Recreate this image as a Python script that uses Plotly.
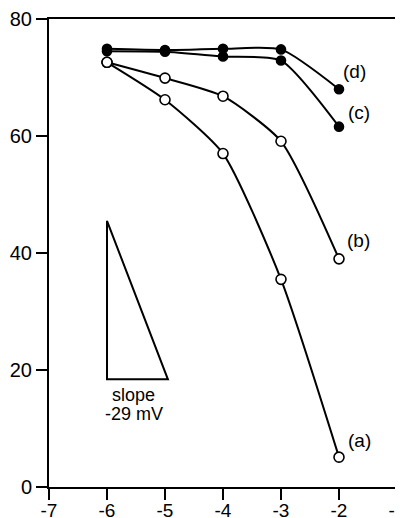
import plotly.graph_objects as go

x_vals = [-6, -5, -4, -3, -2]
series_a = [72.6, 66.2, 57.0, 35.5, 5.1]
series_b = [72.6, 69.9, 66.8, 59.1, 39.0]
series_c = [74.5, 74.4, 73.6, 72.9, 61.6]
series_d = [74.9, 74.7, 74.9, 74.8, 68.0]

label_text = ["(a)", "(b)", "(c)", "(d)"]
label_x = [-1.64, -1.67, -1.66, -1.74]
label_y = [8.0, 42.1, 64.0, 71.0]

tri_x = [-6, -6, -4.95, -6]
tri_y = [45.5, 18.4, 18.4, 45.5]

x_ticks = [-7, -6, -5, -4, -3, -2, -1]
x_tick_text = ["-7", "-6", "-5", "-4", "-3", "-2", "-1"]
y_ticks = [0, 20, 40, 60, 80]
y_tick_text = ["0", "20", "40", "60", "80"]

FONT = "Liberation Sans, Arial, sans-serif"

fig = go.Figure()

fig.add_trace(go.Scatter(x=tri_x, y=tri_y, mode="lines",
                         line=dict(color="black", width=2), hoverinfo="skip"))

for ys, filled in [(series_a, False), (series_b, False), (series_c, True), (series_d, True)]:
    fig.add_trace(go.Scatter(
        x=x_vals, y=ys, mode="lines+markers",
        line=dict(color="black", width=2, shape="spline", smoothing=0.6),
        marker=dict(symbol="circle", size=10 if not filled else 9,
                    color="black" if filled else "white",
                    line=dict(color="black", width=1.6)),
    ))

for t, lx, ly in zip(label_text, label_x, label_y):
    fig.add_annotation(x=lx, y=ly, text=t, showarrow=False,
                       font=dict(family=FONT, size=19, color="black"))

fig.add_annotation(x=-5.54, y=15.8, text="slope", showarrow=False,
                   font=dict(family=FONT, size=18, color="black"))
fig.add_annotation(x=-5.54, y=12.5, text="-29 mV", showarrow=False,
                   font=dict(family=FONT, size=18, color="black"))

fig.update_layout(
    width=403, height=518,
    margin=dict(l=41, r=14, t=11, b=39),
    paper_bgcolor="white", plot_bgcolor="white",
    showlegend=False,
    font=dict(family=FONT, size=20, color="black"),
)
fig.update_xaxes(range=[-7, -1], tickvals=x_ticks, ticktext=x_tick_text,
                 ticks="outside", ticklen=11, automargin=False, ticklabelstandoff=-6,
                 tickfont=dict(family=FONT, size=19, color="black"),
                 tickwidth=2, tickcolor="black", showline=True, linewidth=2,
                 linecolor="black", mirror=True, showgrid=False, zeroline=False)
fig.update_yaxes(range=[0, 80], tickvals=y_ticks, ticktext=y_tick_text,
                 ticks="outside", ticklen=11, automargin=False,
                 tickwidth=2, tickcolor="black", showline=True, linewidth=2,
                 linecolor="black", mirror=True, showgrid=False, zeroline=False)

fig.write_html("out.html")
